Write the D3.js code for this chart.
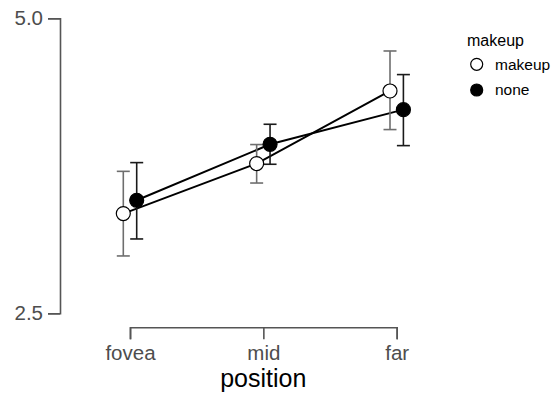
<!DOCTYPE html>
<html>
<head>
<meta charset="utf-8">
<script src="https://cdn.jsdelivr.net/npm/d3@7"></script>
<style>
  body { margin: 0; background: #fff; }
  svg { display: block; font-family: "Liberation Sans", Arial, sans-serif; }
</style>
</head>
<body>
<div id="chart"></div>
<script>
// data
const positions = ["fovea", "mid", "far"];
const groups = ["makeup", "none"];
const makeupMean = [3.345, 3.769, 4.384];
const makeupLow = [2.986, 3.604, 4.057];
const makeupHigh = [3.703, 3.930, 4.723];
const noneMean = [3.458, 3.932, 4.226];
const noneLow = [3.130, 3.763, 3.921];
const noneHigh = [3.777, 4.102, 4.523];
const yTicks = [2.5, 5.0];

const series = [
  { name: "makeup", mean: makeupMean, low: makeupLow, high: makeupHigh, fill: "#fff", bar: "#6e6e6e", shift: -6.7 },
  { name: "none", mean: noneMean, low: noneLow, high: noneHigh, fill: "#000", bar: "#1a1a1a", shift: 6.7 }
];

const width = 555, height = 393;

const svg = d3.select("#chart")
  .append("svg")
  .attr("width", width)
  .attr("height", height);

const x = d3.scalePoint()
  .domain(positions)
  .range([130, 396.7]);

const y = d3.scaleLinear()
  .domain([2.5, 5.0])
  .range([313.3, 18.3]);

// y axis
const yAxis = svg.append("g")
  .attr("transform", "translate(60,0)")
  .call(d3.axisLeft(y).tickValues(yTicks).tickFormat(d3.format(".1f")).tickSizeOuter(0).tickSize(12).tickPadding(5));

// x axis (bracket style)
const xAxis = svg.append("g")
  .attr("transform", "translate(0,327.3)")
  .call(d3.axisBottom(x).tickSizeOuter(0).tickSize(12).tickPadding(6));

[yAxis, xAxis].forEach(ax => {
  ax.select(".domain").attr("stroke", "#555").attr("stroke-width", 1.6);
  ax.selectAll(".tick line").attr("stroke", "#555").attr("stroke-width", 1.6);
  ax.selectAll(".tick text")
    .attr("fill", "#4d4d4d")
    .style("font-size", "20.5px")
    .style("font-family", "'Liberation Sans', Arial, sans-serif");
});

// x axis title
svg.append("text")
  .attr("x", 263.3)
  .attr("y", 387)
  .attr("text-anchor", "middle")
  .style("font-size", "25px")
  .attr("fill", "#000")
  .text("position");

// lines
const line = d3.line()
  .x(d => d[0])
  .y(d => d[1]);

series.forEach(s => {
  const pts = positions.map((p, i) => [x(p) + s.shift, y(s.mean[i])]);
  svg.append("path")
    .attr("d", line(pts))
    .attr("fill", "none")
    .attr("stroke", "#000")
    .attr("stroke-width", 2);
});

// error bars
series.forEach(s => {
  const g = svg.append("g").attr("stroke", s.bar).attr("stroke-width", 1.6);
  positions.forEach((p, i) => {
    const cx = x(p) + s.shift;
    g.append("line")
      .attr("x1", cx).attr("x2", cx)
      .attr("y1", y(s.low[i])).attr("y2", y(s.high[i]));
    [s.low[i], s.high[i]].forEach(v => {
      g.append("line")
        .attr("x1", cx - 6.5).attr("x2", cx + 6.5)
        .attr("y1", y(v)).attr("y2", y(v));
    });
  });
});

// points
series.forEach(s => {
  svg.append("g")
    .selectAll("circle")
    .data(s.mean)
    .enter().append("circle")
    .attr("cx", (d, i) => x(positions[i]) + s.shift)
    .attr("cy", d => y(d))
    .attr("r", 7)
    .attr("fill", s.fill)
    .attr("stroke", "#000")
    .attr("stroke-width", 1.2);
});

// legend
const legend = svg.append("g").attr("transform", "translate(467,0)");
legend.append("text")
  .attr("x", 0)
  .attr("y", 46)
  .style("font-size", "16px")
  .text("makeup");

series.forEach((s, i) => {
  const cy = 64.3 + i * 25.7;
  legend.append("circle")
    .attr("cx", 9.7)
    .attr("cy", cy)
    .attr("r", 6)
    .attr("fill", s.fill)
    .attr("stroke", "#000")
    .attr("stroke-width", 1.2);
  legend.append("text")
    .attr("x", 28)
    .attr("y", cy + 5.3)
    .style("font-size", "15.5px")
    .text(groups[i]);
});
</script>
</body>
</html>
